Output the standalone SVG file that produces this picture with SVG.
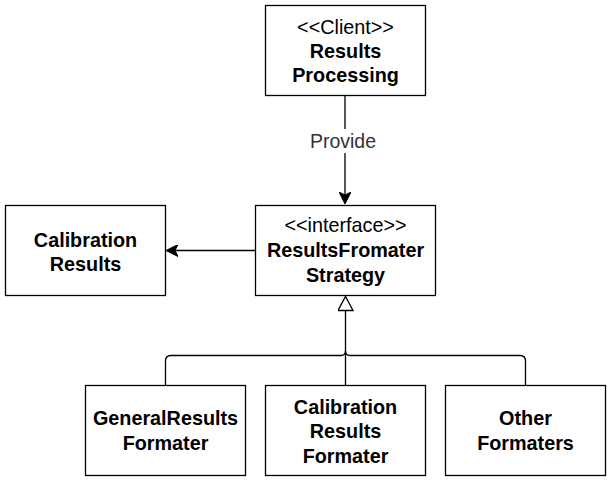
<svg xmlns="http://www.w3.org/2000/svg" width="611" height="481" viewBox="0 0 611 481">
<defs>
<style>
.box{fill:#fff;stroke:#000;stroke-width:1.3}
.t{font-family:"Liberation Sans",Arial,sans-serif;font-size:19.8px;fill:#000;text-anchor:middle}
.b{font-weight:bold}
.edge{fill:none;stroke:#000;stroke-width:1.3}
.lbl{font-family:"Liberation Sans",Arial,sans-serif;font-size:19.5px;fill:#333;text-anchor:middle}
</style>
<marker id="arr" viewBox="0 0 12 12" refX="11" refY="6" markerWidth="12" markerHeight="12" markerUnits="userSpaceOnUse" orient="auto">
<path d="M0,0 L12,6 L0,12 L3,6 Z" fill="#000" stroke="#000" stroke-width="1"/>
</marker>
<marker id="tri" viewBox="0 0 16 16" refX="15" refY="8" markerWidth="16" markerHeight="16" markerUnits="userSpaceOnUse" orient="auto">
<path d="M1,0.5 L15,8 L1,15.5 Z" fill="#fff" stroke="#000" stroke-width="1.3"/>
</marker>
</defs>
<rect width="611" height="481" fill="#fff"/>
<g id="connectors">
<path class="edge" d="M345,95.5 V203" marker-end="url(#arr)"/>
<rect x="305" y="129" width="80" height="24" fill="#fff"/>
<text class="lbl" x="343" y="148">Provide</text>
<path class="edge" d="M255.5,250.5 H167" marker-end="url(#arr)"/>
<path class="edge" d="M345.5,385.5 V296.5" marker-end="url(#tri)"/>
<path class="edge" d="M165.5,385.5 V361 Q165.5,355.5 171,355.5 H341 Q345.5,355.5 345.5,351"/>
<path class="edge" d="M525.5,385.5 V361 Q525.5,355.5 520,355.5 H350 Q345.5,355.5 345.5,351"/>
</g>
<g id="results-processing">
<rect class="box" x="265.5" y="5.5" width="160" height="90"/>
<text class="t" x="345.5" y="34">&lt;&lt;Client&gt;&gt;</text>
<text class="t b" x="345.5" y="58">Results</text>
<text class="t b" x="345.5" y="82">Processing</text>
</g>
<g id="strategy">
<rect class="box" x="255.5" y="205.5" width="180" height="90"/>
<text class="t" x="345.5" y="232">&lt;&lt;interface&gt;&gt;</text>
<text class="t b" x="345.5" y="257">ResultsFromater</text>
<text class="t b" x="345.5" y="282">Strategy</text>
</g>
<g id="calibration-results">
<rect class="box" x="5.5" y="205.5" width="160" height="90"/>
<text class="t b" x="85.5" y="247">Calibration</text>
<text class="t b" x="85.5" y="271">Results</text>
</g>
<g id="general-formater">
<rect class="box" x="85.5" y="385.5" width="160" height="90"/>
<text class="t b" x="165.5" y="425">GeneralResults</text>
<text class="t b" x="165.5" y="450">Formater</text>
</g>
<g id="calibration-formater">
<rect class="box" x="265.5" y="385.5" width="160" height="90"/>
<text class="t b" x="345.5" y="414">Calibration</text>
<text class="t b" x="345.5" y="438">Results</text>
<text class="t b" x="345.5" y="463">Formater</text>
</g>
<g id="other-formaters">
<rect class="box" x="445.5" y="385.5" width="160" height="90"/>
<text class="t b" x="525.5" y="425">Other</text>
<text class="t b" x="525.5" y="450">Formaters</text>
</g>
</svg>
